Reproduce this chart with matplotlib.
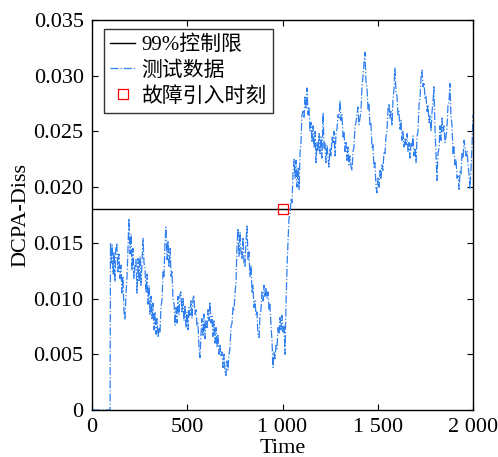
import matplotlib
matplotlib.use("Agg")
import matplotlib.pyplot as plt

plt.rcParams['font.family'] = ['Liberation Serif', 'Noto Sans CJK SC']
plt.rcParams['mathtext.fontset'] = 'stix'

time = [0, 95, 97, 102, 106, 111, 115, 120, 125, 130, 136, 141, 147, 152, 157, 162, 168, 173, 178, 184,
        189, 194, 199, 205, 210, 215, 220, 226, 231, 236, 242, 247, 252, 257, 262, 268, 273, 278, 284, 289,
        294, 299, 304, 310, 315, 320, 326, 331, 336, 341, 347, 352, 357, 362, 368, 373, 378, 383, 388, 394,
        399, 404, 410, 415, 420, 425, 431, 436, 441, 446, 451, 457, 462, 467, 472, 478, 483, 488, 494, 499,
        504, 509, 514, 520, 525, 530, 535, 540, 546, 551, 556, 562, 567, 572, 577, 583, 588, 593, 598, 604,
        609, 614, 619, 625, 630, 635, 640, 646, 651, 656, 661, 667, 672, 677, 682, 688, 693, 698, 703, 708,
        714, 719, 724, 730, 735, 740, 745, 751, 756, 761, 766, 772, 777, 782, 787, 793, 798, 803, 808, 814,
        819, 824, 829, 835, 840, 845, 850, 856, 861, 866, 871, 877, 882, 887, 892, 898, 903, 908, 913, 919,
        924, 929, 934, 940, 945, 950, 955, 961, 966, 971, 977, 982, 987, 992, 997, 1003, 1008, 1013, 1018, 1024,
        1029, 1034, 1040, 1045, 1050, 1055, 1061, 1066, 1071, 1076, 1082, 1087, 1092, 1097, 1102, 1108, 1113, 1118, 1124, 1129,
        1134, 1139, 1144, 1150, 1155, 1160, 1166, 1171, 1176, 1181, 1187, 1192, 1197, 1202, 1207, 1213, 1218, 1223, 1228, 1234,
        1239, 1244, 1249, 1255, 1260, 1265, 1270, 1276, 1281, 1286, 1291, 1297, 1302, 1307, 1312, 1318, 1323, 1328, 1333, 1339,
        1344, 1349, 1354, 1360, 1365, 1370, 1375, 1381, 1386, 1391, 1396, 1401, 1407, 1412, 1417, 1422, 1428, 1433, 1438, 1443,
        1449, 1454, 1459, 1464, 1470, 1475, 1480, 1485, 1491, 1496, 1501, 1507, 1512, 1517, 1522, 1527, 1533, 1538, 1543, 1548,
        1554, 1559, 1564, 1569, 1575, 1580, 1585, 1590, 1596, 1601, 1606, 1611, 1617, 1622, 1627, 1632, 1638, 1643, 1648, 1654,
        1659, 1664, 1669, 1675, 1680, 1685, 1690, 1696, 1701, 1706, 1711, 1717, 1722, 1727, 1732, 1738, 1743, 1748, 1753, 1759,
        1764, 1769, 1774, 1780, 1785, 1790, 1795, 1801, 1806, 1811, 1816, 1822, 1827, 1832, 1837, 1842, 1848, 1853, 1858, 1863,
        1869, 1874, 1879, 1884, 1890, 1895, 1900, 1905, 1911, 1916, 1921, 1927, 1932, 1937, 1942, 1948, 1953, 1958, 1963, 1969,
        1974, 1979, 1984, 1990, 1995, 2000]

test_data = [0, 0, 0.0150, 0.0132, 0.0148, 0.0122, 0.0142, 0.0115, 0.0145, 0.0150, 0.0124, 0.0140, 0.0118, 0.0130, 0.0105, 0.0120, 0.0088, 0.0081, 0.0102, 0.0120,
             0.0145, 0.0172, 0.0140, 0.0158, 0.0125, 0.0145, 0.0118, 0.0130, 0.0135, 0.0105, 0.0136, 0.0115, 0.0138, 0.0112, 0.0132, 0.0154, 0.0132, 0.0128, 0.0105, 0.0122,
             0.0095, 0.0112, 0.0086, 0.0102, 0.0082, 0.0096, 0.0072, 0.0088, 0.0068, 0.0082, 0.0065, 0.0074, 0.0070, 0.0092, 0.0100, 0.0125, 0.0120, 0.0150, 0.0164, 0.0135,
             0.0152, 0.0128, 0.0145, 0.0120, 0.0125, 0.0100, 0.0095, 0.0076, 0.0092, 0.0078, 0.0102, 0.0085, 0.0104, 0.0106, 0.0088, 0.0100, 0.0080, 0.0094, 0.0074, 0.0088,
             0.0072, 0.0092, 0.0085, 0.0098, 0.0082, 0.0100, 0.0103, 0.0086, 0.0090, 0.0076, 0.0078, 0.0055, 0.0047, 0.0068, 0.0082, 0.0066, 0.0086, 0.0064, 0.0080, 0.0074,
             0.0090, 0.0080, 0.0097, 0.0078, 0.0084, 0.0066, 0.0080, 0.0060, 0.0074, 0.0056, 0.0068, 0.0050, 0.0058, 0.0048, 0.0052, 0.0038, 0.0050, 0.0035, 0.0031, 0.0044,
             0.0036, 0.0050, 0.0055, 0.0075, 0.0078, 0.0092, 0.0090, 0.0105, 0.0115, 0.0145, 0.0163, 0.0138, 0.0160, 0.0142, 0.0135, 0.0155, 0.0132, 0.0128, 0.0150, 0.0165,
             0.0135, 0.0142, 0.0120, 0.0130, 0.0105, 0.0112, 0.0092, 0.0098, 0.0085, 0.0088, 0.0068, 0.0065, 0.0085, 0.0090, 0.0106, 0.0098, 0.0112, 0.0102, 0.0110, 0.0100,
             0.0106, 0.0090, 0.0095, 0.0075, 0.0062, 0.0038, 0.0052, 0.0046, 0.0058, 0.0055, 0.0074, 0.0068, 0.0083, 0.0072, 0.0085, 0.0070, 0.0076, 0.0050, 0.0092, 0.0130,
             0.0150, 0.0172, 0.0176, 0.0190, 0.0186, 0.0212, 0.0225, 0.0208, 0.0224, 0.0200, 0.0218, 0.0198, 0.0230, 0.0240, 0.0265, 0.0268, 0.0262, 0.0282, 0.0270, 0.0289,
             0.0265, 0.0272, 0.0250, 0.0258, 0.0240, 0.0255, 0.0235, 0.0250, 0.0222, 0.0240, 0.0232, 0.0248, 0.0230, 0.0245, 0.0226, 0.0267, 0.0235, 0.0240, 0.0222, 0.0238,
             0.0226, 0.0218, 0.0235, 0.0228, 0.0245, 0.0240, 0.0250, 0.0228, 0.0248, 0.0252, 0.0265, 0.0262, 0.0278, 0.0260, 0.0265, 0.0245, 0.0250, 0.0232, 0.0240, 0.0224,
             0.0236, 0.0220, 0.0228, 0.0218, 0.0215, 0.0232, 0.0236, 0.0255, 0.0258, 0.0265, 0.0272, 0.0256, 0.0262, 0.0268, 0.0290, 0.0298, 0.0312, 0.0321, 0.0295, 0.0290,
             0.0270, 0.0275, 0.0255, 0.0258, 0.0235, 0.0238, 0.0218, 0.0222, 0.0200, 0.0195, 0.0208, 0.0200, 0.0215, 0.0208, 0.0220, 0.0215, 0.0232, 0.0230, 0.0245, 0.0250,
             0.0270, 0.0275, 0.0262, 0.0268, 0.0255, 0.0278, 0.0288, 0.0307, 0.0285, 0.0282, 0.0265, 0.0268, 0.0252, 0.0260, 0.0242, 0.0250, 0.0236, 0.0244, 0.0238, 0.0248,
             0.0232, 0.0240, 0.0226, 0.0240, 0.0236, 0.0246, 0.0228, 0.0235, 0.0222, 0.0245, 0.0250, 0.0275, 0.0280, 0.0298, 0.0305, 0.0290, 0.0294, 0.0280, 0.0282, 0.0268,
             0.0274, 0.0258, 0.0264, 0.0250, 0.0268, 0.0276, 0.0290, 0.0250, 0.0228, 0.0206, 0.0230, 0.0236, 0.0255, 0.0242, 0.0262, 0.0250, 0.0255, 0.0240, 0.0245, 0.0252,
             0.0275, 0.0276, 0.0293, 0.0265, 0.0255, 0.0230, 0.0236, 0.0220, 0.0225, 0.0208, 0.0210, 0.0198, 0.0214, 0.0212, 0.0230, 0.0226, 0.0242, 0.0236, 0.0228, 0.0232,
             0.0220, 0.0212, 0.0198, 0.0218, 0.0238, 0.0265]

control_limit = 0.0180
fault_time = 1000

x_ticks = [0, 500, 1000, 1500, 2000]
x_tick_labels = ['0', '500', '1 000', '1 500', '2 000']
y_ticks = [0, 0.005, 0.010, 0.015, 0.020, 0.025, 0.030, 0.035]
y_tick_labels = ['0', '0.005', '0.010', '0.015', '0.020', '0.025', '0.030', '0.035']

fig = plt.figure(figsize=(4.98, 4.57), dpi=100)
ax = fig.add_axes([92 / 498, 47 / 457, 381 / 498, 390 / 457])

ax.axhline(control_limit, color='black', lw=1.0, label='99%控制限')
ax.plot(time, test_data, color='#2f7ff0', lw=0.9, linestyle='-.', label='测试数据')
ax.plot([fault_time], [control_limit], linestyle='none', marker='s', markersize=6.5,
        markerfacecolor='none', markeredgecolor='red', markeredgewidth=0.9, label='故障引入时刻')

ax.set_xlim(0, 2000)
ax.set_ylim(0, 0.035)
ax.set_xticks(x_ticks)
ax.set_xticklabels(x_tick_labels)
ax.set_yticks(y_ticks)
ax.set_yticklabels(y_tick_labels)
ax.tick_params(direction='in', top=True, right=True, labelsize=16, length=4, width=0.8)
ax.tick_params(axis='x', pad=6)
ax.tick_params(axis='y', pad=6)
for s in ax.spines.values():
    s.set_linewidth(1.0)

ax.set_xlabel('Time', fontsize=16, labelpad=1)
ax.set_ylabel('DCPA-Diss', fontsize=16, labelpad=2)

leg = ax.legend(loc='upper left', bbox_to_anchor=(12 / 381, 1 - 9 / 390), fontsize=15,
                frameon=True, fancybox=False, edgecolor='black', handlelength=1.2,
                handletextpad=0.3, borderpad=0.3, labelspacing=0.3, borderaxespad=0.0)
leg.get_frame().set_linewidth(1.0)

fig.savefig('out.png', dpi=100)
